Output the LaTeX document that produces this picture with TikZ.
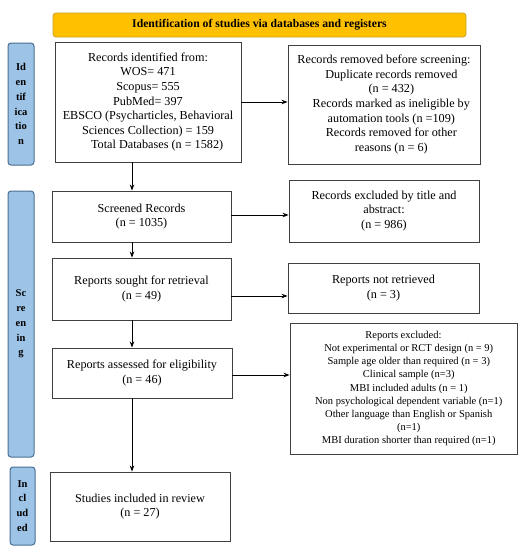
\documentclass[tikz,border=0pt]{standalone}
\usepackage{fontspec}
\setmainfont{Liberation Serif}
\usetikzlibrary{arrows.meta,calc}
\definecolor{bannerfill}{HTML}{FFC000}
\definecolor{bannerdraw}{HTML}{C9A227}
\definecolor{sidefill}{HTML}{9DC3E6}
\definecolor{sidedraw}{HTML}{4A6F93}
\definecolor{boxdraw}{HTML}{404040}
\tikzset{
  flowbox/.style={draw=boxdraw, line width=0.9pt, align=center, inner sep=0pt,
    font=\fontsize{12.2}{14.6}\selectfont},
  smallbox/.style={flowbox, font=\fontsize{10.5}{13.2}\selectfont},
  sidebar/.style={draw=sidedraw, fill=sidefill, line width=1pt, rounded corners=3pt,
    align=center, inner sep=0pt, font=\bfseries\fontsize{10.5}{14.8}\selectfont},
  banner/.style={draw=bannerdraw, fill=bannerfill, line width=0.8pt, rounded corners=3pt,
    inner sep=0pt, font=\bfseries\fontsize{11.7}{13}\selectfont},
  arr/.style={-{Stealth[length=6pt,width=4.5pt]}, line width=0.8pt, draw=black}
}
\begin{document}
\begin{tikzpicture}[x=1pt,y=-1pt]
\useasboundingbox (0,0) rectangle (524,550);
\fill[white] (0,0) rectangle (524,550);

% banner
\node[banner, minimum width=413pt, minimum height=24pt] (ban) at (259.5,25) {Identification of studies via databases and registers};

% side bars
\node[sidebar, minimum width=26pt, minimum height=122pt] (sid) at (21,104) {Id\\en\\tif\\ica\\tio\\n};
\node[sidebar, minimum width=26pt, minimum height=266pt] (sscr) at (21,324) {Sc\\re\\en\\in\\g};
\node[sidebar, minimum width=25pt, minimum height=78pt] (sinc) at (22.5,506) {In\\cl\\ud\\ed};

% left column
\node[flowbox, minimum width=186pt, minimum height=120pt] (rec) at (148,102) {Records identified from:\\WOS= 471\\Scopus= 555\\PubMed= 397\\EBSCO (Psycharticles, Behavioral\\Sciences Collection) = 159\\\hspace{1.5em}Total Databases (n = 1582)};
\node[flowbox, minimum width=179pt, minimum height=51pt] (scr) at (141.5,216.5) {Screened Records\\(n = 1035)};
\node[flowbox, minimum width=179pt, minimum height=62pt] (sou) at (141.5,289) {Reports sought for retrieval\\(n = 49)};
\node[flowbox, minimum width=180pt, minimum height=50pt] (ass) at (142,373) {Reports assessed for eligibility\\(n = 46)};
\node[flowbox, minimum width=180pt, minimum height=69pt] (inc) at (140,506.5) {Studies included in review\\(n = 27)};

% right column
\node[flowbox, minimum width=192pt, minimum height=119pt] (rem) at (384,104.5) {Records removed before screening:\\\hspace{1.2em}Duplicate records removed\\\hspace{1.2em}(n = 432)\\\hspace{1.2em}Records marked as ineligible by\\\hspace{1.2em}automation tools (n =109)\\\hspace{1.2em}Records removed for other\\\hspace{1.2em}reasons (n = 6)};
\node[flowbox, minimum width=190pt, minimum height=62pt] (exc) at (384,211) {Records excluded by title and\\abstract:\\(n = 986)};
\node[flowbox, minimum width=191pt, minimum height=50pt] (nret) at (383.5,288) {Reports not retrieved\\(n = 3)};
\node[smallbox, minimum width=227pt, minimum height=131pt] (rexc) at (403.5,388.5) {Reports excluded:\\\hspace{1em}Not experimental or RCT design (n = 9)\\\hspace{1em}Sample age older than required (n = 3)\\\hspace{1em}Clinical sample (n=3)\\\hspace{1em}MBI included adults (n = 1)\\\hspace{1em}Non psychological dependent variable (n=1)\\\hspace{1em}Other language than English or Spanish\\\hspace{1em}(n=1)\\\hspace{1em}MBI duration shorter than required (n=1)};

% column for vertical arrows
\coordinate (ax) at (132,0);

% horizontal arrows
\draw[arr] (rec.east) -- (rec.east -| rem.west);
\draw[arr] ([yshift=1.5pt]scr.east) -- ([yshift=1.5pt]scr.east -| exc.west);
\draw[arr] ([yshift=-7pt]sou.east) -- ([yshift=-7pt]sou.east -| nret.west);
\draw[arr] ([yshift=-2pt]ass.east) -- ([yshift=-2pt]ass.east -| rexc.west);

% vertical arrows
\draw[arr] (rec.south -| ax) -- (scr.north -| ax);
\draw[arr] (scr.south -| ax) -- (sou.north -| ax);
\draw[arr] (sou.south -| ax) -- (ass.north -| ax);
\draw[arr] (ass.south -| ax) -- (inc.north -| ax);
\end{tikzpicture}
\end{document}
